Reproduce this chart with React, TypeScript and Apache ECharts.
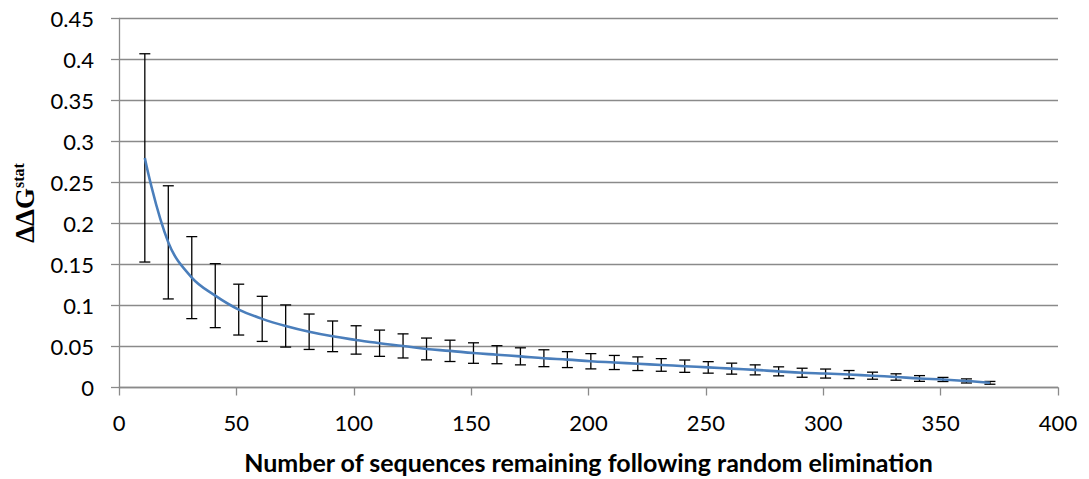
import React, { useEffect, useRef } from "react";
import * as echarts from "echarts";

// Number of sequences kept after random elimination
const sequences = [
  11, 21, 31, 41, 51, 61, 71, 81, 91, 101, 111, 121, 131, 141, 151, 161, 171, 181, 191,
  201, 211, 221, 231, 241, 251, 261, 271, 281, 291, 301, 311, 321, 331, 341, 351, 361, 371,
];

// Mean ΔΔG^stat at each sequence count
const meanDdg = [
  0.28, 0.177, 0.134, 0.112, 0.095, 0.0837, 0.075, 0.068, 0.0624, 0.058, 0.054, 0.0507,
  0.047, 0.0447, 0.042, 0.04, 0.038, 0.0357, 0.034, 0.032, 0.0305, 0.029, 0.0275, 0.026,
  0.0245, 0.023, 0.0215, 0.0197, 0.018, 0.017, 0.0158, 0.0144, 0.0128, 0.011, 0.0098,
  0.008, 0.0057,
];

// Half-width of the error bar at each sequence count
const errDdg = [
  0.127, 0.069, 0.05, 0.039, 0.031, 0.0275, 0.0257, 0.0216, 0.0187, 0.0173, 0.016, 0.0147,
  0.0133, 0.013, 0.0125, 0.011, 0.0104, 0.0103, 0.0097, 0.0093, 0.0086, 0.0083, 0.0077,
  0.0075, 0.007, 0.0067, 0.0061, 0.0055, 0.0055, 0.0055, 0.0049, 0.0043, 0.0039, 0.0035,
  0.0025, 0.0025, 0.0017,
];

const xTitle = "Number of sequences remaining following random elimination";

export default function App() {
  const ref = useRef<HTMLDivElement>(null);

  useEffect(() => {
    if (!ref.current) return;
    const chart = echarts.init(ref.current, null, { renderer: "svg" });

    const lineData = sequences.map((x, i) => [x, meanDdg[i]]);
    const barData = sequences.map((x, i) => [x, meanDdg[i] - errDdg[i], meanDdg[i] + errDdg[i]]);

    const gridColor = "#8a8a8a";
    const labelFont = "Lato, 'Open Sans', sans-serif";
    const serif = "'Liberation Serif', 'DejaVu Serif', serif";

    chart.setOption({
      animation: false,
      backgroundColor: "#ffffff",
      grid: { left: 119, right: 31, top: 18.5, bottom: 89 },
      xAxis: {
        type: "value",
        min: 0,
        max: 400,
        interval: 50,
        name: xTitle,
        nameLocation: "middle",
        nameGap: 61.5,
        nameTextStyle: {
          fontFamily: labelFont,
          fontWeight: "bold",
          fontSize: 25,
          color: "#000",
        },
        axisLine: { show: true, lineStyle: { color: gridColor, width: 1.3 } },
        axisTick: { show: true, length: 8, lineStyle: { color: gridColor, width: 1.3 } },
        axisLabel: { margin: 24, fontFamily: labelFont, fontSize: 22, color: "#000" },
        splitLine: { show: false },
      },
      yAxis: {
        type: "value",
        min: 0,
        max: 0.45,
        interval: 0.05,
        axisLine: { show: true, lineStyle: { color: gridColor, width: 1.3 } },
        axisTick: { show: true, length: 8, lineStyle: { color: gridColor, width: 1.3 } },
        axisLabel: {
          margin: 25,
          fontFamily: labelFont,
          fontSize: 22,
          color: "#000",
          formatter: (v: number) => String(Number(v.toFixed(2))),
        },
        splitLine: { show: true, lineStyle: { color: gridColor, width: 1.3 } },
      },
      graphic: [
        {
          type: "text",
          x: 25,
          y: 203,
          rotation: Math.PI / 2,
          style: {
            text: "{a|ΔΔG}{b|stat}",
            align: "center",
            verticalAlign: "middle",
            rich: {
              a: {
                fontFamily: serif,
                fontWeight: "bold",
                fontSize: 27,
                fill: "#000",
                lineHeight: 30,
              },
              b: {
                fontFamily: serif,
                fontWeight: "bold",
                fontSize: 16,
                fill: "#000",
                verticalAlign: "top",
                lineHeight: 18,
              },
            },
          },
        },
      ],
      series: [
        {
          type: "custom",
          name: "error",
          data: barData,
          encode: { x: 0, y: [1, 2] },
          z: 3,
          renderItem: (params: any, api: any) => {
            const x = api.value(0);
            const lo = api.coord([x, api.value(1)]);
            const hi = api.coord([x, api.value(2)]);
            const cap = 5.5;
            const style = { stroke: "#000", lineWidth: 1.3 };
            return {
              type: "group",
              children: [
                { type: "line", shape: { x1: hi[0], y1: hi[1], x2: lo[0], y2: lo[1] }, style },
                { type: "line", shape: { x1: hi[0] - cap, y1: hi[1], x2: hi[0] + cap, y2: hi[1] }, style },
                { type: "line", shape: { x1: lo[0] - cap, y1: lo[1], x2: lo[0] + cap, y2: lo[1] }, style },
              ],
            };
          },
        },
        {
          type: "line",
          name: "mean",
          data: lineData,
          smooth: 0.4,
          showSymbol: false,
          z: 4,
          lineStyle: { color: "#4a7ebb", width: 2.6 },
          itemStyle: { color: "#4a7ebb" },
        },
      ],
    });

    return () => chart.dispose();
  }, []);

  return (
    <div
      ref={ref}
      style={{ position: "fixed", left: 0, top: 0, width: 1089, height: 479 }}
    />
  );
}
